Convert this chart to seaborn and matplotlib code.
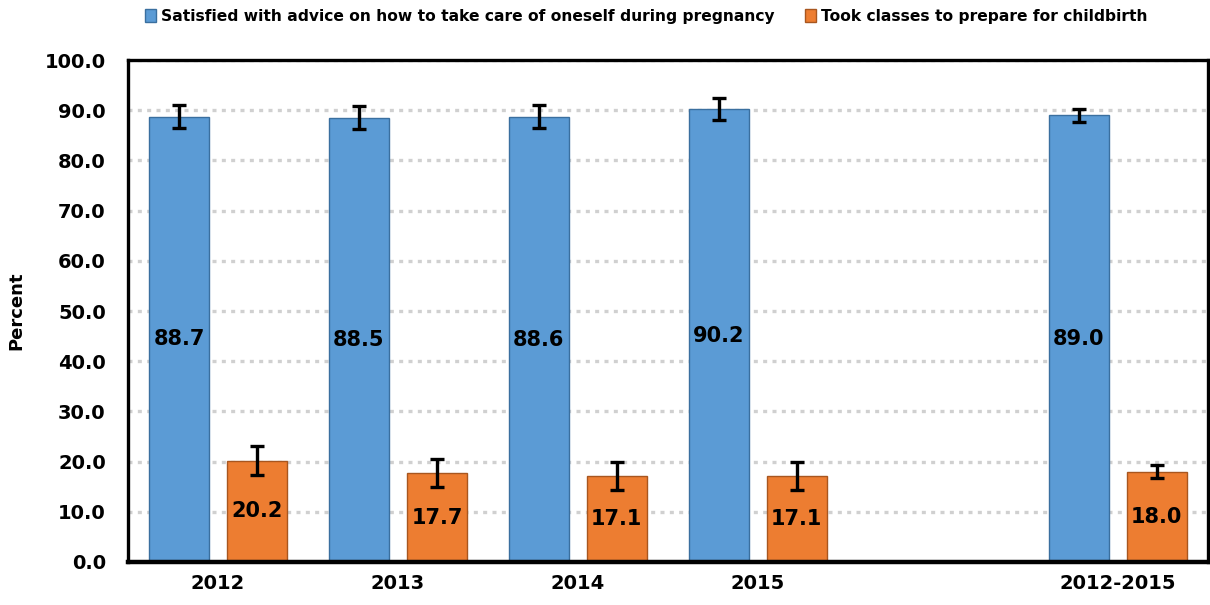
import matplotlib
matplotlib.use("Agg")
import matplotlib.pyplot as plt
import seaborn as sns
import pandas as pd
import numpy as np
from matplotlib.patches import Patch

# ---- data ----
categories = ["2012", "2013", "2014", "2015", " ", "2012-2015"]
data_years = ["2012", "2013", "2014", "2015", "2012-2015"]
series_names = ["Satisfied with advice on how to take care of oneself during pregnancy",
                "Took classes to prepare for childbirth"]
satisfied = [88.7, 88.5, 88.6, 90.2, 89.0]
satisfied_lo = [86.5, 86.3, 86.4, 88.0, 87.7]
satisfied_hi = [91.0, 90.9, 91.0, 92.5, 90.3]
classes = [20.2, 17.7, 17.1, 17.1, 18.0]
classes_lo = [17.3, 14.9, 14.3, 14.3, 16.7]
classes_hi = [23.1, 20.5, 19.9, 19.9, 19.3]
yticks = [0, 10, 20, 30, 40, 50, 60, 70, 80, 90, 100]

colors = ["#5B9BD5", "#ED7D31"]
edge_colors = ["#3A6F9F", "#A8561F"]

df = pd.DataFrame({
    "year": data_years * 2,
    "series": [series_names[0]] * len(data_years) + [series_names[1]] * len(data_years),
    "value": satisfied + classes,
})
err = {
    (series_names[0], y): (lo, hi) for y, lo, hi in zip(data_years, satisfied_lo, satisfied_hi)
}
err.update({
    (series_names[1], y): (lo, hi) for y, lo, hi in zip(data_years, classes_lo, classes_hi)
})

sns.set_theme(style="white")
plt.rcParams["font.family"] = ["DejaVu Sans"]
plt.rcParams["text.color"] = "black"
plt.rcParams["xtick.color"] = "black"
plt.rcParams["ytick.color"] = "black"
plt.rcParams["axes.labelcolor"] = "black"

fig = plt.figure(figsize=(12.1, 6.05), dpi=100)
ax = fig.add_axes([0.1058, 0.0711, 0.8922, 0.8297])

sns.barplot(data=df, x="year", y="value", hue="series", order=categories,
            hue_order=series_names, palette=colors, width=0.867, gap=0.23,
            errorbar=None, ax=ax, legend=False, saturation=1)

bar_containers = list(ax.containers)
for ci, cont in enumerate(bar_containers):
    name = series_names[ci]
    for bar in cont:
        h = bar.get_height()
        if h is None or np.isnan(h):
            continue
        bar.set_edgecolor(edge_colors[ci])
        bar.set_linewidth(1.0)
        xc = bar.get_x() + bar.get_width() / 2
        idx = int(round(xc))
        year = categories[idx]
        lo, hi = err[(name, year)]
        ax.errorbar(xc, h, yerr=[[h - lo], [hi - h]], fmt="none", ecolor="black",
                    elinewidth=2.4, capsize=5, capthick=2.4, zorder=5)
        ax.text(xc, h / 2, f"{h:.1f}", ha="center", va="center",
                fontsize=15, fontweight="bold", color="black", zorder=6)

ax.set_ylim(0, 100)
ax.set_xlim(-0.5, len(categories) - 0.5)
ax.set_yticks(yticks)
ax.set_yticklabels([f"{v:.1f}" for v in yticks], fontsize=14, fontweight="bold")
ax.set_xticks(range(len(categories)))
ax.set_xticklabels([c.strip() for c in categories], fontsize=14, fontweight="bold")
ax.tick_params(axis="x", length=0, pad=9, colors="black")
ax.tick_params(axis="y", length=0, pad=16, colors="black")
ax.set_xlabel("")
ax.set_ylabel("Percent", fontsize=13, fontweight="bold", color="black")
ax.yaxis.set_label_coords(-0.095, 0.5)

ax.yaxis.grid(True, color="#d0d0d0", linestyle=(0, (1.2, 1.6)), linewidth=2.4)
ax.set_axisbelow(True)

for s in ["left", "top", "right"]:
    ax.spines[s].set_visible(True)
    ax.spines[s].set_color("black")
    ax.spines[s].set_linewidth(2.4)
ax.spines["bottom"].set_color("black")
ax.spines["bottom"].set_linewidth(3.2)

handles = [Patch(facecolor=colors[i], edgecolor=edge_colors[i]) for i in range(2)]
fig.legend(handles, series_names, loc="upper center", bbox_to_anchor=(0.534, 1.008),
           ncol=2, frameon=False, prop={"weight": "bold", "size": 11.2},
           labelcolor="black",
           handlelength=0.7, handleheight=0.9, handletextpad=0.3, columnspacing=2.0)

fig.savefig("out.png", dpi=100)
